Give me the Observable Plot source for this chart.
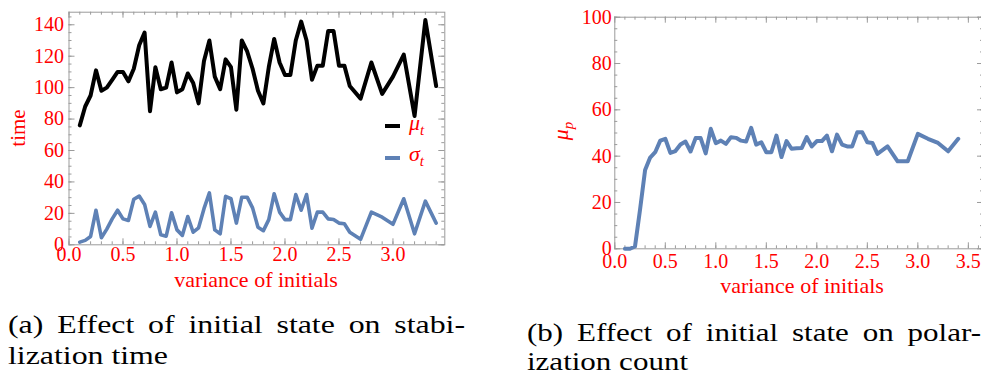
<!DOCTYPE html>
<html><head><meta charset="utf-8">
<script src="https://cdn.jsdelivr.net/npm/d3@7"></script>
<script src="https://cdn.jsdelivr.net/npm/@observablehq/plot@0.6"></script>
<style>
html,body{margin:0;padding:0;background:#fff;}
#wrap{position:relative;width:981px;height:377px;overflow:hidden;font-family:"Liberation Serif",serif;}
#wrap *{font-family:"Liberation Serif",serif;}
#wrap svg text{font-family:"Liberation Serif",serif !important;}
.abs{position:absolute;white-space:nowrap;}
.red{color:#ff0000;}
.rot{transform:translate(-50%,-50%) rotate(-90deg);}
.cap{font-size:26px;line-height:24px;color:#000;transform-origin:0 0;}
.leg{font-size:22px;line-height:22px;font-style:italic;color:#ff0000;}
.sub{font-size:15px;position:relative;top:5px;}
.bar{position:absolute;width:15px;height:4px;}
</style></head>
<body><div id="wrap"></div>
<script>
// variance of initials (x values shared by both panels)
const xs = [0.1,0.15,0.2,0.25,0.3,0.35,0.4,0.45,0.5,0.55,0.6,0.65,0.7,0.75,0.8,0.85,0.9,0.95,1.0,1.05,1.1,1.15,1.2,1.25,1.3,1.35,1.4,1.45,1.5,1.55,1.6,1.65,1.7,1.75,1.8,1.85,1.9,1.95,2.0,2.05,2.1,2.15,2.2,2.25,2.3,2.35,2.4,2.45,2.5,2.55,2.6,2.7,2.8,2.9,3.0,3.1,3.2,3.3,3.4];
// (a) mean stabilization time mu_t
const muT = [76,88,95,111,98,100,105,110,110,104,112,127,135,85,113,99,100,116,97,99,109,103,90,117,130,107,99,118,113,86,130,123,112,98,90,113,131,116,108,108,130,142,130,105,114,114,136,136,114,114,101,93,116,96,107,121,82,143,101];
// (a) std of stabilization time sigma_t
const sigmaT = [1.7,2.8,5.3,22,4.5,10,16.5,22,16.5,15.5,29,31,25.7,11.7,20.8,6.4,5.5,20.4,9.5,6,18,8,10.8,23,33,9.5,7,30.8,29.3,13.8,30.3,30.3,23.5,11.2,9,16,32.5,20.8,16,16,32,22,32,10.6,20.8,20.8,16.5,16.1,13.8,13.4,8,3.5,20.8,17.6,13,29.3,7,27.8,13.8];
// (b) mean polarization count mu_p
const muP = [0,0,1,17,34,39.4,41.7,46.7,47.5,41.4,42.2,45,46.3,42,47.8,47.8,41.2,51.8,45.6,46.7,45.3,48.2,47.9,46.7,46.3,52.2,45,46,41.7,41.7,48.9,39.6,46.5,43.2,43.4,43.5,48.2,44.2,46.5,46.5,48.9,42.1,49.3,45,44.2,44.2,50.3,50.3,46,45.7,41,44.2,37.8,37.8,49.6,47.5,45.7,42.1,47.5];

const xTicksA = [0,0.5,1.0,1.5,2.0,2.5,3.0];
const yTicksA = [0,20,40,60,80,100,120,140];
const xTicksB = [0,0.5,1.0,1.5,2.0,2.5,3.0,3.5];
const yTicksB = [0,20,40,60,80,100];

const xLabel = "variance of initials";
const yLabelA = "time";
const captionA = ["(a) Effect of initial state on stabi-", "lization time"];
const captionB = ["(b) Effect of initial state on polar-", "ization count"];

const BLUE = "#5e81b5";
const GRAY = "#9b9b9b";
const SERIF = '"Liberation Serif", serif';

const dataA = xs.map((x, i) => ({x, mu: muT[i], sigma: sigmaT[i]}));
const dataB = xs.map((x, i) => ({x, mu: muP[i]}));

function panel({width, height, mt, mr, mb, ml, xDomain, yDomain, xMajor, yMajor, xMinor, yMinor, xPad, yPad, lines}) {
  const ph = height - mt - mb, pw = width - ml - mr;
  const svg = Plot.plot({
    width, height, marginTop: mt, marginRight: mr, marginBottom: mb, marginLeft: ml,
    x: {domain: xDomain}, y: {domain: yDomain},
    style: {fontFamily: SERIF, background: "transparent", overflow: "visible"},
    marks: [
      Plot.tickX(xMinor, {x: d => d, stroke: GRAY, insetTop: ph - 3}),
      Plot.tickX(xMinor, {x: d => d, stroke: GRAY, insetBottom: ph - 3}),
      Plot.tickX(xMajor, {x: d => d, stroke: GRAY, insetTop: ph - 6}),
      Plot.tickX(xMajor, {x: d => d, stroke: GRAY, insetBottom: ph - 6}),
      Plot.tickY(yMinor, {y: d => d, stroke: GRAY, insetRight: pw - 3}),
      Plot.tickY(yMinor, {y: d => d, stroke: GRAY, insetLeft: pw - 3}),
      Plot.tickY(yMajor, {y: d => d, stroke: GRAY, insetRight: pw - 6}),
      Plot.tickY(yMajor, {y: d => d, stroke: GRAY, insetLeft: pw - 6}),
      Plot.frame({stroke: GRAY}),
      Plot.axisX(xMajor, {tickSize: 0, tickPadding: xPad, tickFormat: d3.format(".1f"), fontSize: 20, fontFamily: SERIF, fill: "#ff0000", label: null}),
      Plot.axisY(yMajor, {tickSize: 0, tickPadding: yPad, tickFormat: d => String(d), fontSize: 20, fontFamily: SERIF, fill: "#ff0000", label: null}),
      ...lines
    ]
  });
  svg.querySelectorAll("text").forEach(t => t.setAttribute("font-family", SERIF));
  return svg;
}

const wrap = document.getElementById("wrap");

const plotA = panel({
  width: 460, height: 300, mt: 11.7, mr: 15.7, mb: 55.7, ml: 68.5,
  xDomain: [0, 3.48], yDomain: [0, 148],
  xMajor: xTicksA, yMajor: yTicksA,
  xMinor: d3.range(0, 3.45, 0.1), yMinor: d3.range(0, 146, 5),
  xPad: 2, yPad: 5,
  lines: [
    Plot.line(dataA, {x: "x", y: "sigma", stroke: BLUE, strokeWidth: 3.6}),
    Plot.line(dataA, {x: "x", y: "mu", stroke: "#000", strokeWidth: 4})
  ]
});
plotA.style.position = "absolute"; plotA.style.left = "0px"; plotA.style.top = "0px";
wrap.appendChild(plotA);

const plotB = panel({
  width: 486, height: 300, mt: 16.7, mr: 3, mb: 51.7, ml: 114.3,
  xDomain: [0, 3.65], yDomain: [0, 100],
  xMajor: xTicksB, yMajor: yTicksB,
  xMinor: d3.range(0, 3.65, 0.1), yMinor: d3.range(0, 101, 5),
  xPad: 5, yPad: 3,
  lines: [
    Plot.line(dataB, {x: "x", y: "mu", stroke: BLUE, strokeWidth: 4})
  ]
});
plotB.style.position = "absolute"; plotB.style.left = "500px"; plotB.style.top = "0px";
wrap.appendChild(plotB);

function addDiv(html, cls, css) {
  const d = document.createElement("div");
  d.className = "abs " + cls;
  d.innerHTML = html;
  Object.assign(d.style, css);
  wrap.appendChild(d);
  return d;
}

// axis titles
addDiv(xLabel, "red", {fontSize: "22px", lineHeight: "22px", left: "256px", top: "269px", transform: "translateX(-50%)"});
addDiv(xLabel, "red", {fontSize: "22px", lineHeight: "22px", left: "802px", top: "275px", transform: "translateX(-50%)"});
addDiv(yLabelA, "red rot", {fontSize: "21px", lineHeight: "21px", left: "18px", top: "128px"});
addDiv('<i>μ</i><span class="sub"><i>p</i></span>', "red rot", {fontSize: "22px", lineHeight: "22px", left: "562px", top: "131px"});

// legend (panel a)
const b1 = document.createElement("div"); b1.className = "bar"; Object.assign(b1.style, {left: "385px", top: "124px", background: "#000"}); wrap.appendChild(b1);
const b2 = document.createElement("div"); b2.className = "bar"; Object.assign(b2.style, {left: "385px", top: "156px", background: BLUE}); wrap.appendChild(b2);
addDiv('μ<span class="sub">t</span>', "leg", {left: "409px", top: "112px"});
addDiv('σ<span class="sub">t</span>', "leg", {left: "409px", top: "143px"});

// captions
function caption(lines, left, tops, widths) {
  const els = lines.map((t, i) => addDiv(t, "cap", {left: left + "px", top: tops[i] + "px"}));
  const w2 = els[1].getBoundingClientRect().width;
  const g = widths[1] / w2;
  els[1].style.transform = `scaleX(${g})`;
  const w1 = els[0].getBoundingClientRect().width;
  const spaces = (lines[0].match(/ /g) || []).length;
  const extra = (widths[0] / g - w1) / spaces;
  els[0].style.wordSpacing = extra + "px";
  els[0].style.transform = `scaleX(${g})`;
}
caption(captionA, 8, [313, 344], [457, 160]);
caption(captionB, 527, [321, 350], [454, 161]);
</script>
</body></html>
